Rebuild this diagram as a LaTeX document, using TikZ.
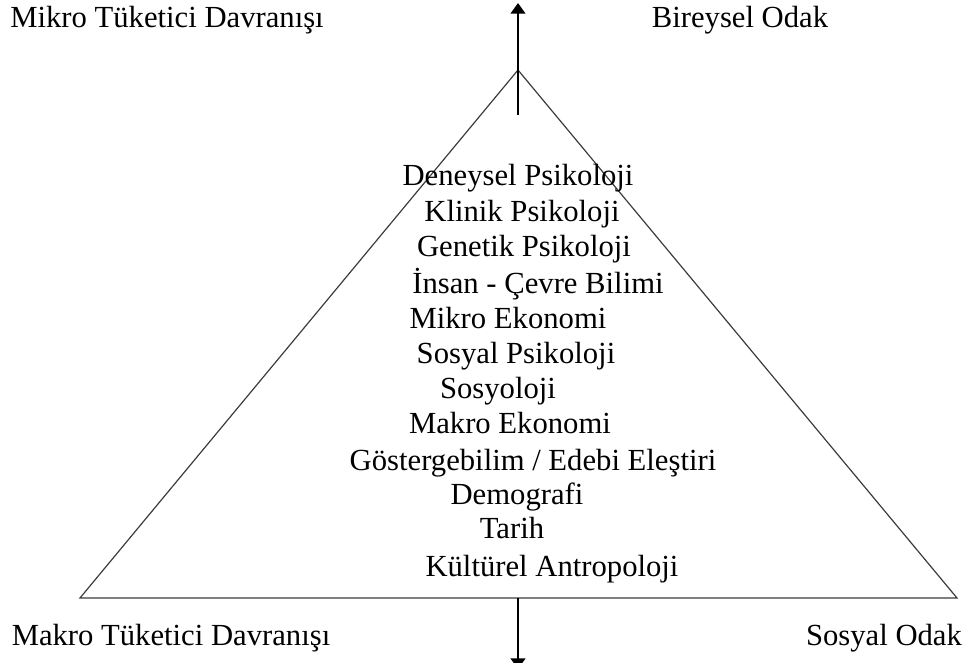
\documentclass[tikz,border=0pt]{standalone}
\usepackage{fontspec}
\setmainfont{Liberation Serif}
\usetikzlibrary{arrows.meta}

\tikzset{every picture/.style={line width=0.75pt}}
\tikzset{
  lbl/.style={anchor=base,inner sep=0.75pt,font=\fontsize{23}{27}\selectfont},
  side/.style={color={rgb, 255:red, 60; green, 60; blue, 60 },line width=0.9pt},
  axis/.style={color=black,line width=1.6pt,-{Triangle[width=11pt,length=8pt]}}
}

\begin{document}
\begin{tikzpicture}[x=0.75pt,y=0.75pt,yscale=-1,xscale=1]
\useasboundingbox (0,0) rectangle (965,662);
\clip (0,0) rectangle (965,662);

%Triangle corners
\coordinate (apex) at (518,70);
\coordinate (bl) at (80,598);
\coordinate (br) at (957,598);
\coordinate (upin) at (518,115);
\coordinate (uptip) at (518,3);
\coordinate (base) at (518,598);
\coordinate (downtip) at (518,669);

%Triangle
\draw [side]  (apex) -- (bl) -- (br) -- cycle ;
%Straight Lines (up arrow)
\draw [axis]  (upin) -- (uptip) ;
%Straight Lines (down arrow)
\draw [axis]  (base) -- (downtip) ;

% Text Node
\node (mikro) at (167,27) [lbl] {Mikro Tüketici Davranışı};
% Text Node
\node (bireysel) at (740,27) [lbl] {Bireysel Odak};
% Text Node
\node (makro) at (171,645) [lbl] {Makro Tüketici Davranışı};
% Text Node
\node (sosyalodak) at (884,645) [lbl] {Sosyal Odak};

% Text Node
\node (deneysel) at (518,185) [lbl] {Deneysel Psikoloji};
% Text Node
\node (klinik) at (522,221) [lbl] {Klinik Psikoloji};
% Text Node
\node (genetik) at (524,256) [lbl] {Genetik Psikoloji};
% Text Node
\node (insan) at (538,293) [lbl] {İnsan - Çevre Bilimi};
% Text Node
\node (mikroeko) at (508,328) [lbl] {Mikro Ekonomi};
% Text Node
\node (sosyalpsi) at (516,363) [lbl] {Sosyal Psikoloji};
% Text Node
\node (sosyoloji) at (498,398) [lbl] {Sosyoloji};
% Text Node
\node (makroeko) at (510,433) [lbl] {Makro Ekonomi};
% Text Node
\node (gosterge) at (533,470) [lbl] {Göstergebilim / Edebi Eleştiri};
% Text Node
\node (demografi) at (517,504) [lbl] {Demografi};
% Text Node
\node (tarih) at (512,538) [lbl] {Tarih};
% Text Node
\node (kulturel) at (552,576) [lbl] {Kültürel Antropoloji};

\end{tikzpicture}
\end{document}
